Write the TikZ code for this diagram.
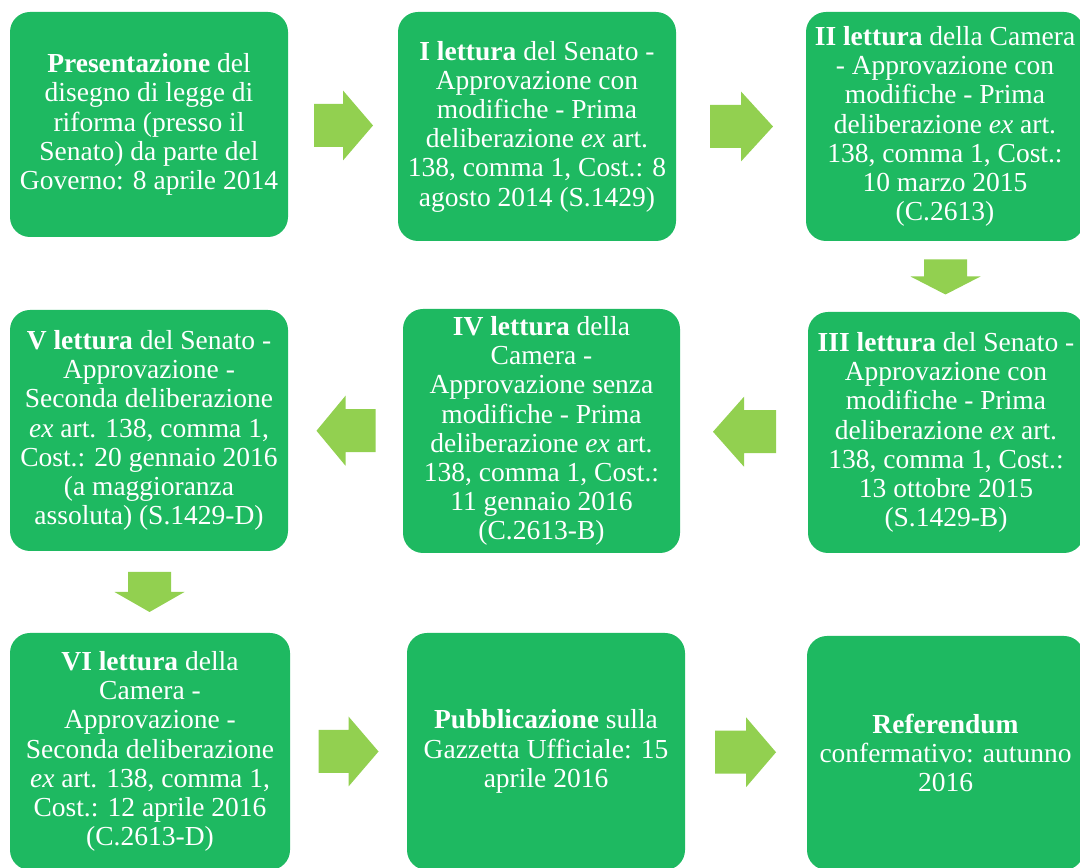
\documentclass[tikz,border=0pt]{standalone}
\usepackage{fontspec}
\setmainfont{Liberation Serif}
\usetikzlibrary{calc}

\definecolor{boxgreen}{RGB}{30,185,97}
\definecolor{arrowgreen}{RGB}{146,208,80}

% block arrow: #1 centre, #2 angle, #3 shaft, #4 head
\newcommand{\freccia}[4]{%
  \fill [arrowgreen,shift={(#1)},rotate=#2] (-#3,-21.5) -- (0,-21.5) -- (0,-35) -- (#4,0)
        -- (0,35) -- (0,21.5) -- (-#3,21.5) -- cycle;}

\begin{document}
\begin{tikzpicture}[x=1pt,y=1pt,
  fase/.style={rectangle,rounded corners=20pt,fill=boxgreen,text=white,align=center,
               inner sep=0pt,font=\fontsize{27.5}{29.2}\selectfont}]

\useasboundingbox (0,0) rectangle (1080,868);

% first row
\node [fase,minimum width=278,minimum height=225] (b1) at (149,743.5)
  {\textbf{Presentazione} del\\disegno di legge di\\riforma (presso il\\Senato) da parte del\\Governo: 8 aprile 2014};
\node [fase,minimum width=278,minimum height=229] (b2) at (537,741.5)
  {\textbf{I lettura} del Senato -\\Approvazione con\\modifiche - Prima\\deliberazione \textit{ex} art.\\138, comma 1, Cost.: 8\\agosto 2014 (S.1429)};
\node [fase,minimum width=278,minimum height=229] (b3) at (945,741.5)
  {\textbf{II lettura} della Camera\\- Approvazione con\\modifiche - Prima\\deliberazione \textit{ex} art.\\138, comma 1, Cost.:\\10 marzo 2015\\(C.2613)};

% second row
\node [fase,minimum width=276,minimum height=241] (b6) at (946,435.5)
  {\textbf{III lettura} del Senato -\\Approvazione con\\modifiche - Prima\\deliberazione \textit{ex} art.\\138, comma 1, Cost.:\\13 ottobre 2015\\(S.1429-B)};
\node [fase,minimum width=277,minimum height=244] (b5) at (541.5,437)
  {\textbf{IV lettura} della\\Camera -\\Approvazione senza\\modifiche - Prima\\deliberazione \textit{ex} art.\\138, comma 1, Cost.:\\11 gennaio 2016\\(C.2613-B)};
\node [fase,minimum width=278,minimum height=241] (b4) at (149,437.5)
  {\textbf{V lettura} del Senato -\\Approvazione -\\Seconda deliberazione\\\textit{ex} art. 138, comma 1,\\Cost.: 20 gennaio 2016\\(a maggioranza\\assoluta) (S.1429-D)};

% third row
\node [fase,minimum width=280,minimum height=237] (b7) at (150,116.5)
  {\textbf{VI lettura} della\\Camera -\\Approvazione -\\Seconda deliberazione\\\textit{ex} art. 138, comma 1,\\Cost.: 12 aprile 2016\\(C.2613-D)};
\node [fase,minimum width=278,minimum height=237] (b8) at (546,116.5)
  {\textbf{Pubblicazione} sulla\\Gazzetta Ufficiale: 15\\aprile 2016};
\node [fase,minimum width=277,minimum height=234] (b9) at (945.5,115)
  {\textbf{Referendum}\\confermativo: autunno\\2016};

% arrows
\coordinate (f1) at ($(b1.east)!.5!(b2.west)$);
\coordinate (f2) at ($(b2.east)!.5!(b3.west)$);
\coordinate (f3) at ($(b3.south)!.5!(b6.north)$);
\coordinate (f4) at ($(b6.west)!.5!(b5.east)$);
\coordinate (f5) at ($(b5.west)!.5!(b4.east)$);
\coordinate (f6) at ($(b4.south)!.5!(b7.north)$);
\coordinate (f7) at ($(b7.east)!.5!(b8.west)$);
\coordinate (f8) at ($(b8.east)!.5!(b9.west)$);

\freccia{f1}{0}{29}{30}
\freccia{f2}{0}{31}{32}
\freccia{f3}{-90}{17}{18}
\freccia{f4}{180}{32}{31}
\freccia{f5}{180}{30}{29}
\freccia{f6}{-90}{20}{20}
\freccia{f7}{0}{30}{30}
\freccia{f8}{0}{31}{30}

\end{tikzpicture}
\end{document}
